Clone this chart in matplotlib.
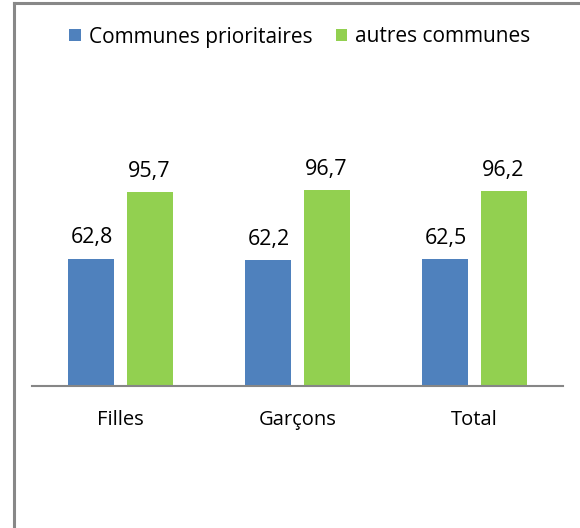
import numpy as np
import matplotlib.pyplot as plt
from matplotlib.lines import Line2D

categories = ['Filles', 'Garçons', 'Total']
prioritaires = [62.8, 62.2, 62.5]
autres = [95.7, 96.7, 96.2]
series_names = ['Communes prioritaires', 'autres communes']

plt.rcParams['font.family'] = ['Open Sans', 'DejaVu Sans']

W, H = 580, 528
fig = plt.figure(figsize=(W / 100, H / 100), dpi=100)
fig.patch.set_facecolor('white')

# axes placed in pixel terms: x 32..563, baseline at y=386 from top
px_per_unit = 2.027
ymax = 120
ax_h = ymax * px_per_unit
ax = fig.add_axes([32 / W, (H - 386) / H, (563 - 32) / W, ax_h / H])

x = np.arange(len(categories))
bw = 0.26
off = 0.164
b1 = ax.bar(x - off, prioritaires, bw, color='#4F81BD', label=series_names[0])
b2 = ax.bar(x + off, autres, bw, color='#92D050', label=series_names[1])

for bars in (b1, b2):
    for rect in bars:
        v = rect.get_height()
        ax.annotate(f'{v:.1f}'.replace('.', ','),
                    (rect.get_x() + rect.get_width() / 2, v),
                    xytext=(0, 15), textcoords='offset points',
                    ha='center', va='center', fontsize=15.5, color='black')

ax.set_xlim(-0.5, 2.5)
ax.set_ylim(0, ymax)
ax.set_xticks(x)
ax.set_xticklabels(categories, fontsize=14.5)
ax.tick_params(axis='x', length=0, pad=17)
ax.set_yticks([])
for s in ('left', 'right', 'top'):
    ax.spines[s].set_visible(False)
ax.spines['bottom'].set_color('#868686')
ax.spines['bottom'].set_linewidth(1.5)

fig.legend(loc='center', bbox_to_anchor=(300 / W, 1 - 37 / H), ncol=2,
           frameon=False, fontsize=15, handlelength=0.55, handleheight=0.55,
           handletextpad=0.4, columnspacing=1.1)

# chart frame (cropped at right and bottom)
fig.add_artist(Line2D([14 / W, 14 / W], [0, 1 - 3 / H], color='#888888', lw=2.2,
                      transform=fig.transFigure))
fig.add_artist(Line2D([14 / W, 1], [1 - 3 / H, 1 - 3 / H], color='#888888', lw=2.2,
                      transform=fig.transFigure))

fig.savefig('out.png', dpi=100)
